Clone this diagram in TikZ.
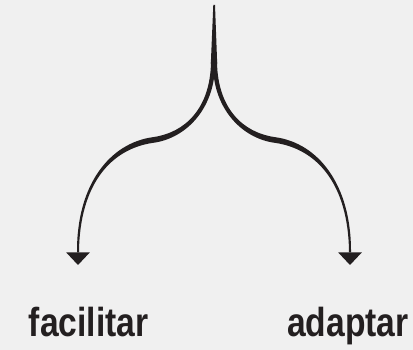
\documentclass[tikz,border=0pt]{standalone}
\usepackage{fontspec}
\newfontfamily\labelfont[FakeStretch=0.83]{Liberation Sans}
\definecolor{bgc}{HTML}{F0F0F0}
\definecolor{ink}{HTML}{231F20}
\tikzset{
  lbl/.style={anchor=base, inner sep=0pt, text=ink, font=\labelfont\bfseries\fontsize{40.5}{40.5}\selectfont},
  inkfill/.style={fill=ink, draw=none}
}
\begin{document}
\begin{tikzpicture}[x=1pt,y=-1pt]
\fill[bgc] (0,0) rectangle (413,350);
\useasboundingbox (0,0) rectangle (413,350);
% named points
\coordinate (top) at (214,5);
\coordinate (lend) at (78,252.5);
\coordinate (rend) at (350,252.5);
% stem
\fill[inkfill] (213.3,5) -- (215,5) -- (217.2,64) -- (210.8,64) -- cycle;
% left branch (tapered)
\fill[inkfill] (211,62) .. controls (210.3,108) and (185.6,132.7) .. (152.6,137.2)
  .. controls (109.6,143.2) and (76.5,185) .. (77,252.5)
  -- (79,252.5)
  .. controls (79.5,185) and (110.4,148.8) .. (153.4,142.8)
  .. controls (186.4,138.3) and (215.8,108) .. (215,62) -- cycle;
% right branch (tapered)
\fill[inkfill] (217,62) .. controls (217.7,108) and (242.4,132.7) .. (275.4,137.2)
  .. controls (318.4,143.2) and (351.5,185) .. (351,252.5)
  -- (349,252.5)
  .. controls (348.5,185) and (317.6,148.8) .. (274.6,142.8)
  .. controls (241.6,138.3) and (212.2,108) .. (213,62) -- cycle;
% arrowheads
\fill[inkfill] (lend) ++(-11.75,0) -- ++(23.5,0) -- ++(-11.75,12.5) -- cycle;
\fill[inkfill] (rend) ++(-11.75,0) -- ++(23.5,0) -- ++(-11.75,12.5) -- cycle;
% labels
\node[lbl] (fac) at (88.7,336.7) {facilitar};
\node[lbl] (ada) at (347.8,336.3) {adaptar};
\end{tikzpicture}
\end{document}
